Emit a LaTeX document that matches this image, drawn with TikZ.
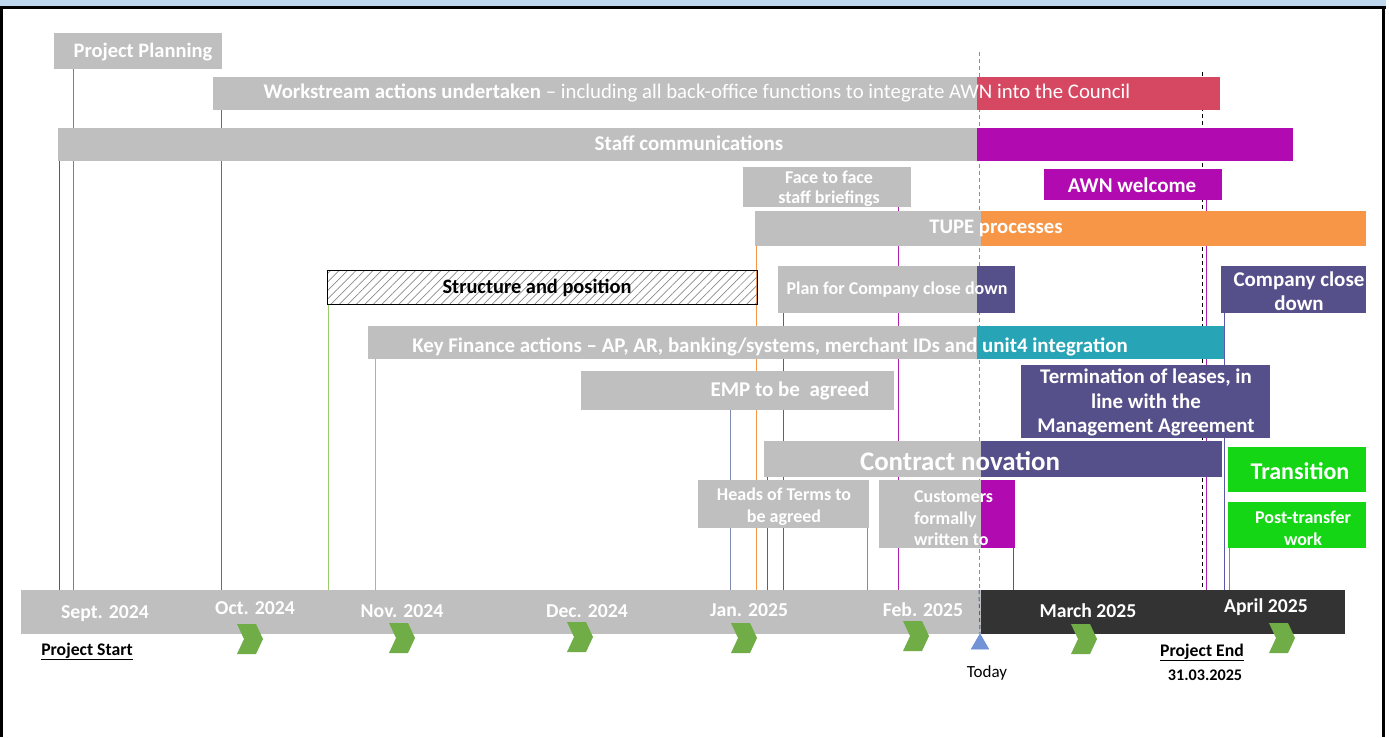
\documentclass[tikz,border=0pt]{standalone}
\usepackage{fontspec}
\setmainfont{Carlito}
\usetikzlibrary{patterns.meta,shapes.geometric}
\definecolor{cgray}{HTML}{BFBFBF}
\definecolor{cred}{HTML}{D64862}
\definecolor{cpurple}{HTML}{B00AB0}
\definecolor{corange}{HTML}{F79646}
\definecolor{cdark}{HTML}{56508A}
\definecolor{cteal}{HTML}{27A4B5}
\definecolor{cgreen}{HTML}{14D614}
\definecolor{caxis}{HTML}{333333}
\definecolor{cchev}{HTML}{70AD47}
\definecolor{ctop}{HTML}{BDD7EE}
\definecolor{ctoday}{HTML}{7294D6}
\definecolor{ctodayline}{HTML}{6A90D8}
\definecolor{lpp}{HTML}{C0607A}
\definecolor{lws}{HTML}{D04050}
\definecolor{lmag}{HTML}{B020B0}
\definecolor{lgreen}{HTML}{9BCB6A}
\definecolor{lblue}{HTML}{8DB4E2}
\definecolor{lslate}{HTML}{7F8CB0}
\definecolor{lindigo}{HTML}{5A58A8}
\definecolor{lgr}{HTML}{20D020}
\newcommand\fs[2]{\fontsize{#1}{#2}\selectfont}
\newcommand\bx[6]{\node[fill=#2, inner sep=0pt, outer sep=0pt, anchor=north west, minimum width={(#5-#3)*1pt}, minimum height={(#6-#4)*1pt}] (#1) at (#3,#4) {};}
\pgfdeclarelayer{bgzero}
\pgfdeclarelayer{bglines}
\pgfsetlayers{bgzero,bglines,main}
\tikzset{
  tw/.style={text=white, inner sep=0pt, align=center, yshift=-1.5pt},
  tb/.style={text=black, inner sep=0pt, align=center, yshift=-1.5pt},
  ln/.style={line width=1pt},
  chev/.pic={\fill[cchev] (-13,-15) -- (6,-15) -- (13,0) -- (6,15) -- (-13,15) -- (-6,0) -- cycle;}
}
\begin{document}
\begin{tikzpicture}[x=1pt,y=-1pt]
\useasboundingbox (0,0) rectangle (1389,737);
\begin{pgfonlayer}{bgzero}
\fill[white] (0,0) rectangle (1389,737);
\fill[ctop] (0,0) rectangle (1386,7);
\fill[black] (0,6) rectangle (1386,9);
\fill[black] (0,6) rectangle (3,737);
\fill[black] (1382,6) rectangle (1385,737);
\end{pgfonlayer}

% axis
\bx{ax}{cgray}{21}{590}{981}{634}
\bx{axd}{caxis}{981}{590}{1345}{634}

% boxes (background parts)
\bx{pp}{cgray}{54}{33}{222}{69}
\bx{ws}{cgray}{213}{77}{977}{110}
\bx{wsr}{cred}{977}{77}{1220}{110}
\bx{sc}{cgray}{58}{128}{977}{161}
\bx{scp}{cpurple}{977}{128}{1293}{161}
\bx{ff}{cgray}{743}{167}{911}{207}
\bx{awn}{cpurple}{1044}{169}{1222}{200}
\bx{tu}{cgray}{755}{211}{981}{246}
\bx{tuo}{corange}{981}{211}{1366}{246}
\bx{pl}{cgray}{778}{266}{977}{313}
\bx{pld}{cdark}{977}{266}{1015}{313}
\bx{ccd}{cdark}{1221}{266}{1366}{313}
\bx{kf}{cgray}{368}{326}{977}{359}
\bx{kft}{cteal}{977}{326}{1224}{359}
\bx{emp}{cgray}{581}{371}{894}{410}
\bx{tl}{cdark}{1021}{365}{1270}{438}
\bx{cn}{cgray}{764}{441}{981}{477}
\bx{cnd}{cdark}{981}{441}{1222}{477}
\bx{tr}{cgreen}{1228}{447}{1366}{492}
\bx{ht}{cgray}{698}{480}{869}{528}
\bx{cu}{cgray}{879}{480}{981}{548}
\bx{cup}{cpurple}{981}{480}{1015}{548}
\bx{pt}{cgreen}{1228}{502}{1366}{548}
\node[draw=black, line width=0.8pt, pattern={Lines[angle=45,distance=6pt,line width=0.7pt]}, pattern color=black!45, inner sep=0pt, anchor=north west, minimum width=430pt, minimum height=34pt] (st) at (327,270) {};

% connectors behind boxes
\begin{pgfonlayer}{bglines}
\draw[ln, lpp] (pp.south -| 73,0) -- (ax.north -| 73,0);
\draw[ln, lws] (ws.south -| 221,0) -- (ax.north -| 221,0);
\draw[ln, lmag] (sc.south -| 59,0) -- (ax.north -| 59,0);
\draw[ln, lmag] (ff.south -| 898,0) -- (ax.north -| 898,0);
\draw[ln, corange] (tu.south -| 756,0) -- (ax.north -| 756,0);
\draw[ln, lgreen] (st.south -| 328,0) -- (ax.north -| 328,0);
\draw[ln, lindigo] (pl.south -| 783,0) -- (ax.north -| 783,0);
\draw[ln, lblue] (kf.south -| 375,0) -- (ax.north -| 375,0);
\draw[ln, lslate] (emp.south -| 730,0) -- (ax.north -| 730,0);
\draw[ln, lindigo] (cn.south -| 767,0) -- (ax.north -| 767,0);
\draw[ln, lslate] (ht.south -| 867,0) -- (ax.north -| 867,0);
\draw[ln, lmag] (cup.south -| 1013,0) -- (axd.north -| 1013,0);
\draw[ln, lmag] (awn.south -| 1206,0) -- (axd.north -| 1206,0);
\draw[ln, lindigo] (ccd.south -| 1224,0) -- (axd.north -| 1224,0);
\draw[ln, lgr] (pt.south -| 1229,0) -- (axd.north -| 1229,0);
\coordinate (pe) at (1202,72);
\draw[line width=1pt, black, dash pattern=on 4pt off 3pt] (pe) -- (axd.north -| pe);
\end{pgfonlayer}

% today marker
\node[isosceles triangle, isosceles triangle apex angle=60, shape border rotate=90, fill=ctoday, draw=ctodayline, line width=0.6pt, inner sep=0pt, minimum height=15pt, minimum width=15pt] (tri) at (980,644) {};
\coordinate (td) at (979,52);
\begin{pgfonlayer}{bglines}
\draw[line width=1pt, ctodayline, dash pattern=on 4pt off 3pt] (td) -- (td |- ax.north);
\end{pgfonlayer}
\draw[line width=1pt, ctodayline!70!black, dash pattern=on 4pt off 3pt] (td |- ax.north) -- (tri.apex);

% texts
\node[tw, font=\bfseries\fs{20.5}{24}] (tpp) at (143,51) {Project Planning};
\node[tw, font=\fs{20.8}{24}] (tws) at (697,91) {\textbf{Workstream actions undertaken} – including all back-office functions to integrate AWN into the Council};
\node[tw, font=\bfseries\fs{21}{24}] (tsc) at (689,142) {Staff communications};
\node[tw, font=\bfseries\fs{18}{20}] (tff) at (829,187) {Face to face\\staff briefings};
\node[tw, font=\bfseries\fs{21}{24}] (tawn) at (1132,184) {AWN welcome};
\node[tw, font=\bfseries\fs{20.7}{24}] (ttu) at (996,227) {TUPE processes};
\node[tb, font=\bfseries\fs{20.4}{24}] (tst) at (537,286) {Structure and position};
\node[tw, font=\bfseries\fs{18}{21}] (tpl) at (897,288) {Plan for Company close down};
\node[tw, font=\bfseries\fs{21}{24}] (tccd) at (1299,290) {Company close\\down};
\node[tw, font=\bfseries\fs{20.9}{24}] (tkf) at (770,345) {Key Finance actions – AP, AR, banking/systems, merchant IDs and unit4 integration};
\node[tw, font=\bfseries\fs{21}{24}] (temp) at (790,389) {EMP to be\ \ agreed};
\node[tw, font=\bfseries\fs{20.9}{24.5}] (ttl) at (1146,401) {Termination of leases, in\\line with the\\Management Agreement};
\node[tw, font=\bfseries\fs{26.9}{30}] (tcn) at (960,460) {Contract novation};
\node[tw, font=\bfseries\fs{24}{28}] (ttr) at (1300,470) {Transition};
\node[tw, font=\bfseries\fs{18}{22}] (tht) at (784,505) {Heads of Terms to\\be agreed};
\node[tw, font=\bfseries\fs{18}{21.5}, align=left, anchor=west] (tcu) at (914,517) {Customers\\formally\\written to};
\node[tw, font=\bfseries\fs{18}{22}] (tpt) at (1303,527) {Post-transfer\\work};

% month labels
\node[tw, font=\bfseries\fs{19.7}{22}] (m1) at (105,612) {Sept. 2024};
\node[tw, font=\bfseries\fs{19.7}{22}] (m2) at (255,607) {Oct. 2024};
\node[tw, font=\bfseries\fs{19.7}{22}] (m3) at (402,610) {Nov. 2024};
\node[tw, font=\bfseries\fs{19.7}{22}] (m4) at (587,610) {Dec. 2024};
\node[tw, font=\bfseries\fs{19.7}{22}] (m5) at (749,609) {Jan. 2025};
\node[tw, font=\bfseries\fs{19.7}{22}] (m6) at (923,608) {Feb. 2025};
\node[tw, font=\bfseries\fs{19.7}{22}] (m7) at (1088,609) {March 2025};
\node[tw, font=\bfseries\fs{19.7}{22}] (m8) at (1266,606) {April 2025};

% chevrons
\pic at (250,639) {chev};
\pic at (402,638) {chev};
\pic at (580,637) {chev};
\pic at (744,638) {chev};
\pic at (916,636) {chev};
\pic at (1084,639) {chev};
\pic at (1282,638) {chev};

% bottom labels
\node[tb, font=\bfseries\fs{17.7}{20}] (ps) at (87,650) {\underline{Project Start}};
\node[tb, font=\bfseries\fs{17.7}{20}] (pend) at (1202,651) {\underline{Project End}};
\node[tb, font=\bfseries\fs{16.2}{20}] (pdate) at (1205,674) {31.03.2025};
\node[tb, font=\fs{17}{20}] (today) at (987,671) {Today};
\end{tikzpicture}
\end{document}
